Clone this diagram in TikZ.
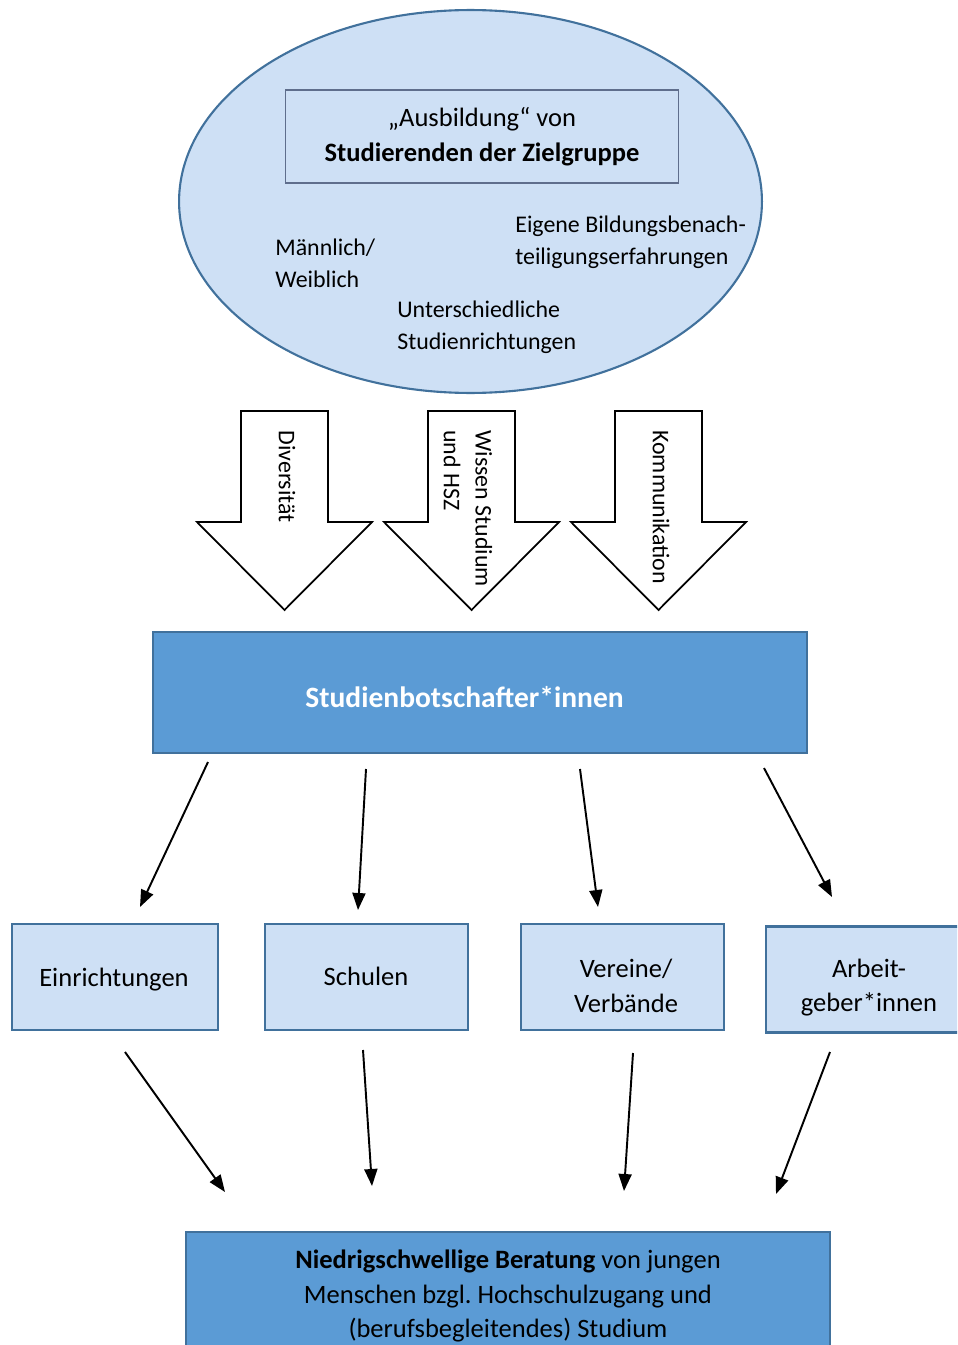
\documentclass[tikz,border=0pt]{standalone}
\usepackage{fontspec}
\setmainfont{Carlito}
\usetikzlibrary{arrows.meta,shapes.geometric}

\definecolor{boxfill}{RGB}{206,224,245}
\definecolor{boxline}{RGB}{65,113,156}
\definecolor{darkfill}{RGB}{91,155,213}
\definecolor{innerline}{RGB}{95,110,140}

\tikzset{
  lightbox/.style={rectangle, draw=boxline, line width=1.2pt, fill=boxfill, minimum height=2.12cm},
  darkbox/.style={rectangle, draw=boxline, line width=1.2pt, fill=darkfill},
  boxtext/.style={align=center, inner sep=0pt, font=\fontsize{15.1}{19.8}\selectfont},
  blockarrow/.style={draw=black, line width=1pt, fill=white},
  arrowlabel/.style={rotate=-90, anchor=west, inner sep=0pt, align=left, font=\fontsize{13.6}{18.1}\selectfont},
  itemtext/.style={anchor=west, inner sep=0pt, align=left, font=\fontsize{13.6}{18.1}\selectfont},
  arrow/.style={line width=1.1pt, -{Triangle[length=0.34cm,width=0.26cm]}}
}

\begin{document}
\begin{tikzpicture}[x=0.02cm, y=-0.02cm]
  \clip (0,0) rectangle (957,1345);

  % target group
  \node (group) [ellipse, draw=boxline, line width=1.2pt, fill=boxfill, minimum width=11.66cm, minimum height=7.66cm] at (470.5,201.5) {};
  \node (training) [rectangle, draw=innerline, line width=0.6pt, minimum width=7.88cm, minimum height=1.86cm, boxtext] at (482,136.5) {„Ausbildung“ von\\\textbf{Studierenden der Zielgruppe}};
  \node (gender) [itemtext] at (275,263) {Männlich/\\Weiblich};
  \node (disadv) [itemtext] at (515,242) {Eigene Bildungsbenach-\\teiligungserfahrungen};
  \node (fields) [itemtext] at (397,327) {Unterschiedliche\\Studienrichtungen};

  % block arrows
  \foreach \cx in {284.5,471.5,658.5}
    \draw [blockarrow] (\cx-43.5,411) -- (\cx+43.5,411) -- (\cx+43.5,522) -- (\cx+87.5,522)
      -- (\cx,610) -- (\cx-87.5,522) -- (\cx-43.5,522) -- cycle;
  \node (diversity) [arrowlabel] at (287,430) {Diversität};
  \node (knowledge) [arrowlabel] at (468,430) {Wissen Studium\\und HSZ};
  \node (communication) [arrowlabel] at (661,430) {Kommunikation};

  % ambassadors
  \node (ambassadors) [darkbox, minimum width=13.08cm, minimum height=2.42cm] at (480,692.5) {};
  \node (ambassadors-text) [boxtext, font=\fontsize{16.8}{20}\selectfont, text=white] at (464.5,697) {\textbf{Studienbotschafter*innen}};

  % partners
  \node (facilities) [lightbox, minimum width=4.12cm] at (115,977) {};
  \node (schools) [lightbox, minimum width=4.06cm] at (366.5,977) {};
  \node (clubs) [lightbox, minimum width=4.06cm] at (622.5,977) {};
  \node (employers) [lightbox, minimum width=4.12cm] at (869,979.5) {};
  \node (facilities-text) [boxtext] at (114,980) {Einrichtungen};
  \node (schools-text) [boxtext] at (366,976) {Schulen};
  \node (clubs-text) [boxtext] at (626,985.5) {Vereine/\\Verbände};
  \node (employers-text) [boxtext] at (869,987.5) {Arbeit-\\geber*innen};

  % counselling
  \node (counselling) [darkbox, minimum width=12.88cm, minimum height=2.56cm, boxtext] at (508,1296) {\textbf{Niedrigschwellige Beratung} von jungen\\Menschen bzgl.\ Hochschulzugang und\\(berufsbegleitendes) Studium};

  % arrow ends
  \coordinate (a1) at (208,762);  \coordinate (b1) at (140,907);
  \coordinate (a2) at (366,769);  \coordinate (b2) at (358,910);
  \coordinate (a3) at (580,769);  \coordinate (b3) at (598,907);
  \coordinate (a4) at (764,768);  \coordinate (b4) at (832,897);
  \coordinate (c1) at (125,1052); \coordinate (d1) at (225,1192);
  \coordinate (c2) at (363,1050); \coordinate (d2) at (372,1186);
  \coordinate (c3) at (633,1053); \coordinate (d3) at (624,1191);
  \coordinate (c4) at (830,1052); \coordinate (d4) at (776,1194);

  \draw [arrow] (a1) -- (b1);
  \draw [arrow] (a2) -- (b2);
  \draw [arrow] (a3) -- (b3);
  \draw [arrow] (a4) -- (b4);
  \draw [arrow] (c1) -- (d1);
  \draw [arrow] (c2) -- (d2);
  \draw [arrow] (c3) -- (d3);
  \draw [arrow] (c4) -- (d4);
\end{tikzpicture}
\end{document}
